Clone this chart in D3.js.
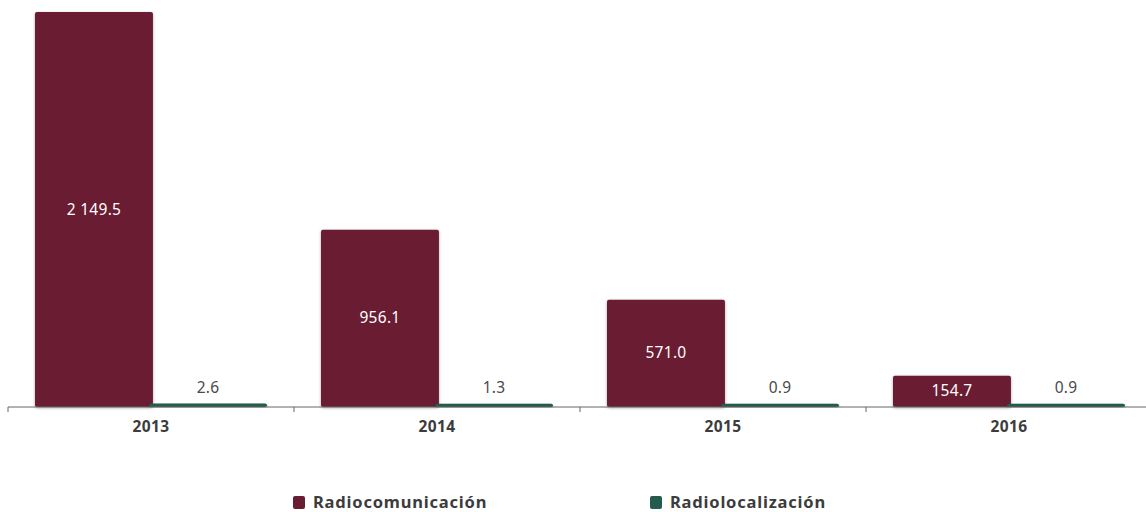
<!DOCTYPE html>
<html><head><meta charset="utf-8">
<script src="https://cdn.jsdelivr.net/npm/d3@7"></script>
<style>body{margin:0;background:#fff;} text{font-family:"Noto Sans","Open Sans",sans-serif;}</style>
</head><body><svg id="c" width="1146" height="512"></svg>
<script>
const categories = ["2013","2014","2015","2016"];
const seriesNames = ["Radiocomunicación","Radiolocalización"];
const radiocomunicacion = [2149.5, 956.1, 571.0, 154.7];
const radiolocalizacion = [2.6, 1.3, 0.9, 0.9];
const colors = ["#691C32","#235B4E"];

const svg = d3.select("#c");
const defs = svg.append("defs");
const f = defs.append("filter").attr("id","sh").attr("x","-10%").attr("y","-10%").attr("width","120%").attr("height","130%");
f.append("feDropShadow").attr("dx",0).attr("dy",1).attr("stdDeviation",1.6).attr("flood-color","#000").attr("flood-opacity",0.35);

const baseline = 407;
const x = d3.scaleBand().domain(categories).range([8, 1152]).paddingInner(0).paddingOuter(0);
const x1 = d3.scaleBand().domain(seriesNames).range([27, x.bandwidth()-27]).paddingInner(-0.034);
const y = d3.scaleLinear().domain([0, 2149.5]).range([404, 12]);
const loc = d3.formatLocale({decimal:".", thousands:" ", grouping:[3], currency:["$",""]});
const fmt = loc.format(",.1f");

const data = categories.map((c,i)=>({cat:c, vals:[radiocomunicacion[i], radiolocalizacion[i]]}));

const g = svg.append("g");
const ax = svg.append("g").attr("transform",`translate(0,${baseline})`);
ax.append("line").attr("x1",8).attr("x2",1146).attr("stroke","#666").attr("stroke-width",1);
ax.selectAll("line.tk").data(categories).join("line").attr("class","tk")
  .attr("x1",d=>x(d)).attr("x2",d=>x(d)).attr("y1",0).attr("y2",5).attr("stroke","#666");
ax.selectAll("text").data(categories).join("text")
  .attr("x",d=>x(d)+x.bandwidth()/2).attr("y",25).attr("text-anchor","middle")
  .attr("font-size",15.5).attr("font-weight","bold").attr("letter-spacing",0.4).attr("fill","#3c3c3c").text(d=>d);

const grp = g.selectAll("g.grp").data(data).join("g").attr("class","grp")
  .attr("transform",d=>`translate(${x(d.cat)},0)`);
grp.selectAll("rect").data(d=>d.vals.map((v,j)=>({v,j}))).join("rect")
  .attr("x",d=>x1(seriesNames[d.j])).attr("width",x1.bandwidth())
  .attr("y",d=>y(d.v)).attr("height",d=>baseline - y(d.v))
  .attr("rx",2).attr("fill",d=>colors[d.j]).attr("filter","url(#sh)");

grp.append("text")
  .attr("x",x1(seriesNames[0])+x1.bandwidth()/2)
  .attr("y",d=>(y(d.vals[0])+baseline)/2+5)
  .attr("text-anchor","middle").attr("font-size",15.5).attr("letter-spacing",0.3).attr("fill","#fff")
  .text(d=>fmt(d.vals[0]));
grp.append("text")
  .attr("x",x1(seriesNames[1])+x1.bandwidth()/2)
  .attr("y",d=>y(d.vals[1])-11)
  .attr("text-anchor","middle").attr("font-size",15.5).attr("letter-spacing",0.3).attr("fill","#4a4a4a")
  .text(d=>fmt(d.vals[1]));

const legX = [293, 650];
const lg = svg.append("g");
seriesNames.forEach((s,i)=>{
  lg.append("rect").attr("x",legX[i]).attr("y",496).attr("width",12).attr("height",13).attr("rx",2).attr("fill",colors[i]);
  lg.append("text").attr("x",legX[i]+20).attr("y",508).attr("font-size",16.5).attr("font-weight","bold").attr("letter-spacing",0.8).attr("fill","#3c3c3c").text(s);
});
</script></body></html>
